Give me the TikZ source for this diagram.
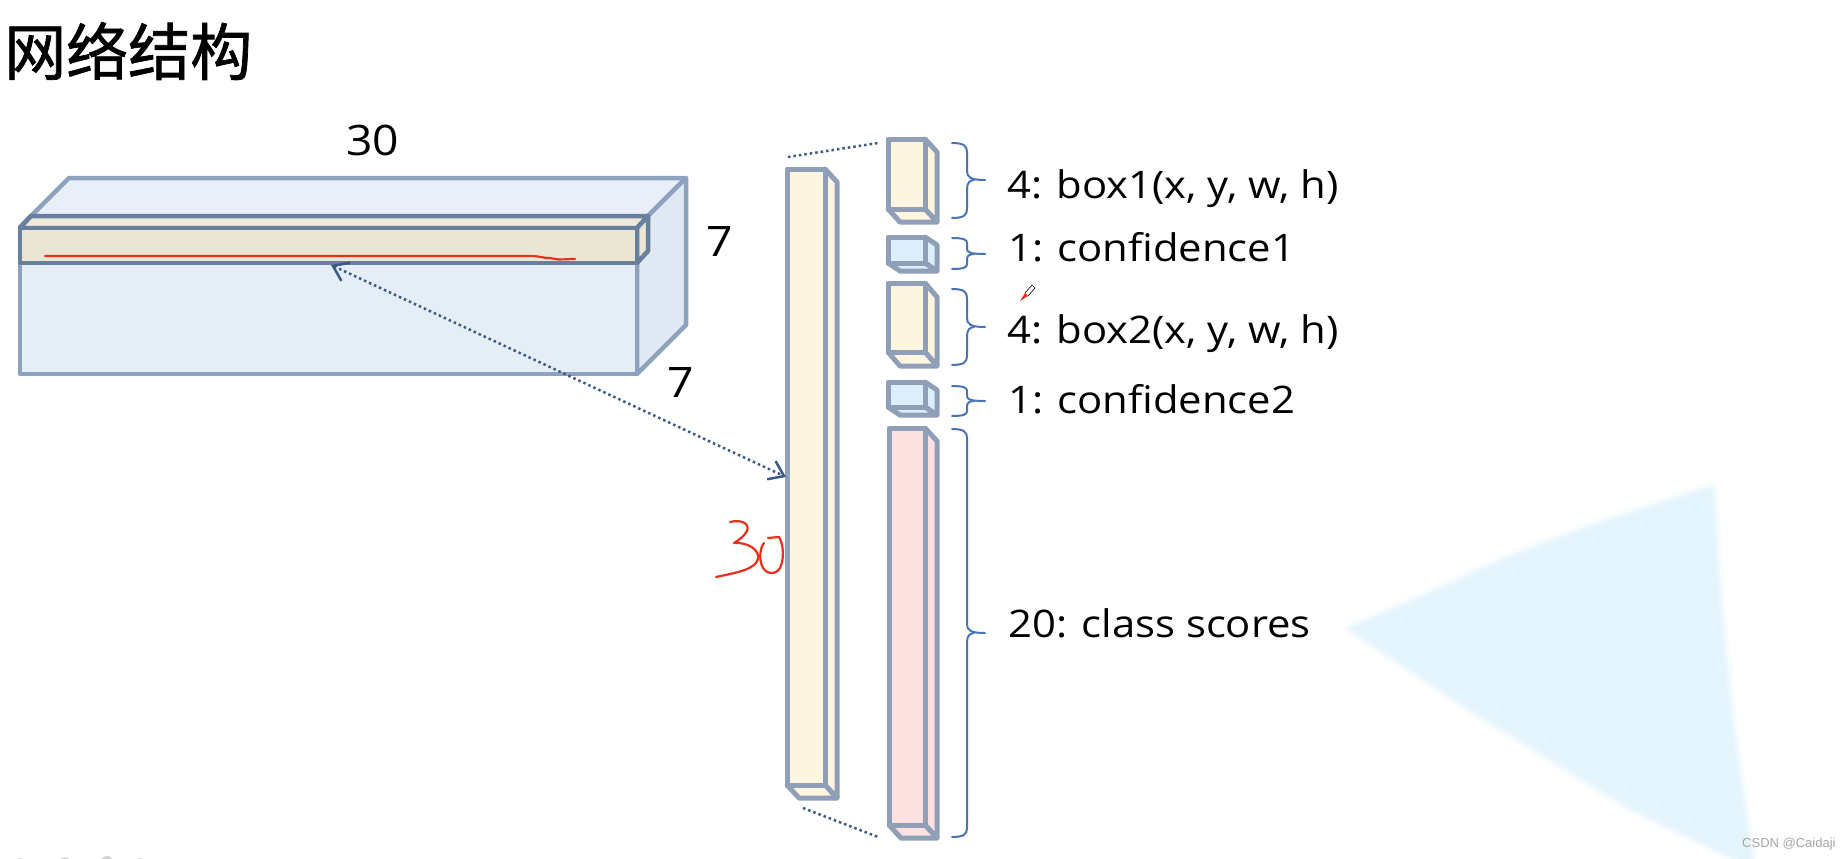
\documentclass[tikz,border=0pt]{standalone}
\usepackage{fontspec}
\newfontfamily\labfont[FakeStretch=1.1]{Open Sans}
\newfontfamily\cjkfont[FakeBold=1.2]{Noto Sans CJK SC}
\newfontfamily\wmfont{Liberation Sans}
\usetikzlibrary{arrows.meta}
\definecolor{edgec}{HTML}{8E9FB7}
\definecolor{boxedge}{HTML}{8CA2BF}
\definecolor{slabedge}{HTML}{687F9E}
\definecolor{creamc}{HTML}{FDF5E0}
\definecolor{confc}{HTML}{DCEEFB}
\definecolor{pinkc}{HTML}{FDE0E0}
\definecolor{bracec}{HTML}{4A74B4}
\definecolor{dotc}{HTML}{3B5B86}
\definecolor{penred}{HTML}{E8301C}
\definecolor{tric}{HTML}{E3F4FD}
\definecolor{bigtop}{HTML}{E8EFF8}
\definecolor{bigside}{HTML}{DFE8F3}
\definecolor{bigfront}{HTML}{E5EDF7}
\definecolor{slabtop}{HTML}{EEE9DB}
\definecolor{slabside}{HTML}{E9E4D3}
\definecolor{slabfront}{HTML}{EBE5D4}
\tikzset{
  cubeline/.style={draw=edgec, line width=5pt, line join=round},
  bigline/.style={draw=boxedge, line width=4.5pt, line join=round},
  slabline/.style={draw=slabedge, line width=4.5pt, line join=round},
  bracestyle/.style={draw=bracec, line width=2pt, line cap=round},
  dotline/.style={draw=dotc, line width=2.5pt, dash pattern=on 2.5pt off 3pt},
  lab/.style={inner sep=0pt, anchor=base west, font=\labfont\fontsize{38}{40}\selectfont},
  dimlab/.style={inner sep=0pt, anchor=base west, font=\labfont\fontsize{42}{44}\selectfont},
}
\newcommand\rcube[7]{%
  \filldraw[cubeline, fill=#7] (#3,#2) -- (#3+#5,#2+#6) -- (#3+#5,#4+#6) -- (#3,#4) -- cycle;
  \filldraw[cubeline, fill=#7] (#1,#4) -- (#1+#5,#4+#6) -- (#3+#5,#4+#6) -- (#3,#4) -- cycle;
  \filldraw[cubeline, fill=#7] (#1,#2) rectangle (#3,#4);
}
\newcommand\pbrace[5]{%
  \draw[bracestyle] (#1,#2) .. controls (#1+12,#2) and (#1+15,#2+#5/3) .. (#1+15,#2+#5)
     -- (#1+15,#3-#5) .. controls (#1+15,#3-#5/3) and (#1+18,#3) .. (#1+33,#3);
  \draw[bracestyle] (#1,#4) .. controls (#1+12,#4) and (#1+15,#4-#5/3) .. (#1+15,#4-#5)
     -- (#1+15,#3+#5) .. controls (#1+15,#3+#5/3) and (#1+18,#3) .. (#1+22,#3);
}
\newcommand\trishape{(1352,629) -- (1420,600) -- (1507,560) -- (1600,525) -- (1711,489) -- (1718,600) -- (1730,720) -- (1750,859) -- (1740,859) -- (1630,806) -- (1462,702) -- cycle}
\begin{document}
\begin{tikzpicture}[x=1pt,y=-1pt]
\useasboundingbox (0,0) rectangle (1842,859);
\fill[white] (0,0) rectangle (1842,859);

% faded triangle (background), soft edges
\draw[tric, line width=14pt, line join=round, opacity=0.25] \trishape;
\draw[tric, line width=7pt, line join=round, opacity=0.5] \trishape;
\fill[tric] \trishape;

% title
\node[inner sep=0pt, anchor=base west, font=\cjkfont\fontsize{62}{64}\selectfont] (title) at (4,75) {网络结构};

% big 7x7x30 box
\filldraw[bigline, fill=bigtop] (20,227) -- (69,178) -- (686,178) -- (637,227) -- cycle;
\filldraw[bigline, fill=bigside] (637,227) -- (686,178) -- (686,325) -- (637,374) -- cycle;
\filldraw[bigline, fill=bigfront] (20,227) rectangle (637,374);
% highlighted slab
\filldraw[slabline, fill=slabtop] (20,228) -- (31,216) -- (648,216) -- (637,228) -- cycle;
\filldraw[slabline, fill=slabside] (637,228) -- (648,216) -- (648,251) -- (637,263) -- cycle;
\filldraw[slabline, fill=slabfront] (20,228) rectangle (637,263);
\draw[penred, line width=2.2pt, line cap=round] (45,256) -- (530,256) .. controls (540,256) and (542,258) .. (550,258) -- (555,259) .. controls (560,260) and (566,259) .. (575,259);

\node[dimlab] (d30) at (346,155) {30};
\node[dimlab] (d7a) at (706,256) {7};
\node[dimlab] (d7b) at (667,397) {7};

% long column vector
\rcube{787}{169}{825}{785}{12}{13}{creamc}

% expanded parts
\rcube{888}{139}{925}{209}{12}{13}{creamc}
\rcube{888}{237}{925}{263}{12}{8}{confc}
\rcube{888}{283}{925}{352}{12}{14}{creamc}
\rcube{888}{382}{925}{407}{12}{8}{confc}
\rcube{889}{428}{925}{825}{12}{13}{pinkc}

% dotted expansion lines
\coordinate (e1) at (788,157);
\coordinate (e2) at (878,143);
\coordinate (e3) at (803,808);
\coordinate (e4) at (878,837);
\draw[dotline] (e1) -- (e2);
\draw[dotline] (e3) -- (e4);

% dotted double arrow
\coordinate (a1) at (331,265);
\coordinate (a2) at (786,477);
\draw[dotline, {Straight Barb[length=14pt,width=20pt,line width=2.5pt]}-{Straight Barb[length=14pt,width=20pt,line width=2.5pt]}] (a1) -- (a2);

% handwritten red 30
\draw[penred, line width=2.2pt, line cap=round, line join=round]
  (730,522) .. controls (742,519) and (750,524) .. (747,531) .. controls (744,537) and (737,541) .. (734,543)
  .. controls (748,542) and (760,550) .. (758,559) .. controls (755,569) and (740,572) .. (716,577);
\draw[penred, line width=2.2pt, line cap=round, line join=round]
  (768,538) -- (779,537) .. controls (784,545) and (784,560) .. (780,568) .. controls (776,575) and (766,575) .. (762,566) .. controls (759,558) and (760,548) .. (764,543);

% braces
\pbrace{952}{143}{180}{218}{9}
\pbrace{952}{238}{254}{269}{5}
\pbrace{952}{289}{327}{365}{9}
\pbrace{952}{386}{401}{416}{5}
\pbrace{952}{429}{633}{837}{9}

% labels
\node[lab] (t1) at (1007,198) {4: box1(x, y, w, h)};
\node[lab] (t2) at (1008,261) {1: confidence1};
\node[lab] (t3) at (1007,343) {4: box2(x, y, w, h)};
\node[lab] (t4) at (1008,413) {1: confidence2};
\node[lab] (t5) at (1008,637) {20: class scores};

% pen cursor
\fill[penred] (1020,301) -- (1028,296) -- (1025,293) -- cycle;
\draw[black, line width=0.6pt] (1025,293) -- (1032,285) -- (1035,288) -- (1028,296);

% faint toolbar remnants at bottom-left
\fill[gray!30] (20,864) circle (6);
\fill[gray!30] (65,863) circle (6);
\fill[gray!35] (107,862) circle (6);
\fill[gray!30] (140,864) circle (6);
\draw[gray!35, line width=2pt] (185,870) circle (10);

% watermark
\node[inner sep=0pt, anchor=base west, text=gray!70, font=\wmfont\fontsize{13}{14}\selectfont] (wm) at (1742,847) {CSDN @Caidaji};
\end{tikzpicture}
\end{document}
